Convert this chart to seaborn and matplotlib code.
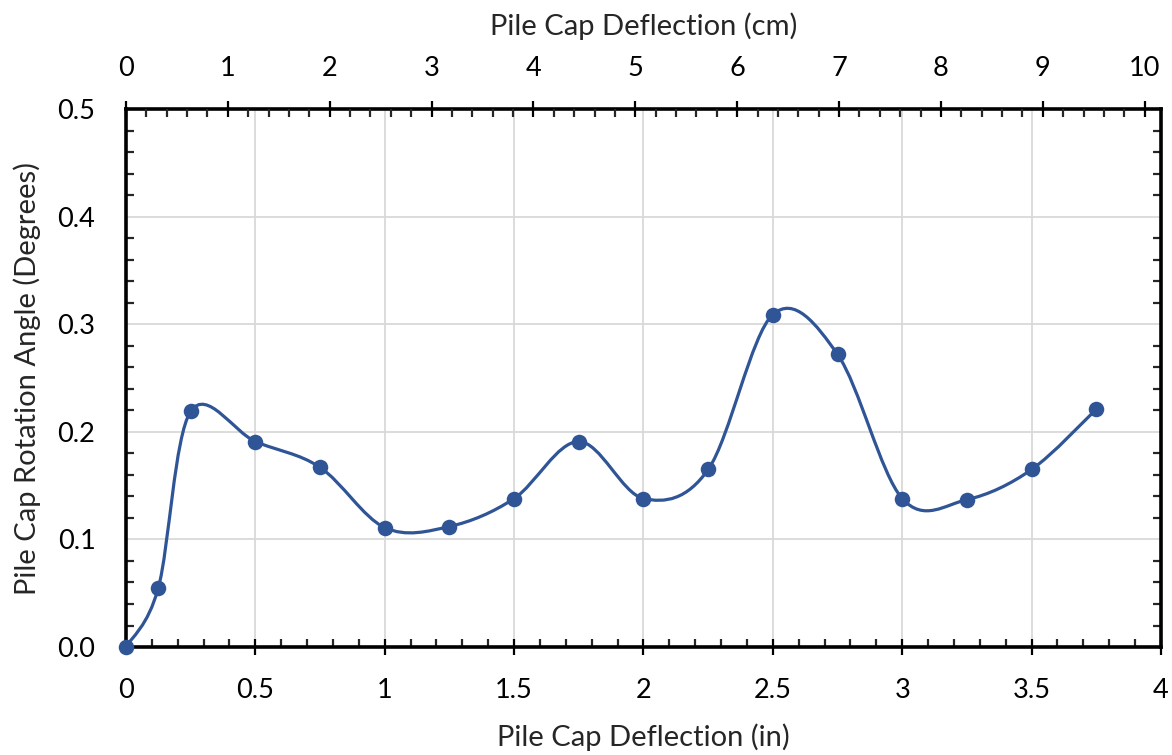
import numpy as np
import matplotlib
matplotlib.use("Agg")
import matplotlib.pyplot as plt
import seaborn as sns
from matplotlib.path import Path
from matplotlib.patches import PathPatch
from matplotlib.ticker import MultipleLocator

sns.set_theme(style="white")
plt.rcParams['font.family'] = ['Lato', 'DejaVu Sans']

# 数据：桩帽挠度 (in) 与转角 (度)
deflection_in = [0, 0.125, 0.25, 0.5, 0.75, 1.0, 1.25, 1.5, 1.75, 2.0,
                 2.25, 2.5, 2.75, 3.0, 3.25, 3.5, 3.75]
rotation_deg = [0.0, 0.055, 0.219, 0.191, 0.167, 0.111, 0.112, 0.138, 0.191, 0.138,
                0.165, 0.309, 0.272, 0.138, 0.137, 0.165, 0.221]

line_color = '#2f5597'
grid_color = '#d9d9d9'
tick_fs = 19.5
label_fs = 21

fig = plt.figure(figsize=(11.72, 7.55), dpi=100)
ax = fig.add_axes([0.1075, 0.143, 0.8831, 0.7126])

# Excel 风格的平滑曲线（贝塞尔控制点取自相邻点）
pts = np.column_stack([deflection_in, rotation_deg])
n = len(pts)
verts = [pts[0]]
codes = [Path.MOVETO]
for i in range(n - 1):
    p_prev = pts[i - 1] if i > 0 else pts[i]
    p_next2 = pts[i + 2] if i + 2 < n else pts[i + 1]
    c1 = pts[i] + (pts[i + 1] - p_prev) / 6
    c2 = pts[i + 1] - (p_next2 - pts[i]) / 6
    verts += [c1, c2, pts[i + 1]]
    codes += [Path.CURVE4] * 3
ax.add_patch(PathPatch(Path(verts, codes), facecolor='none', edgecolor=line_color,
                       lw=2.3, zorder=3))

sns.scatterplot(x=deflection_in, y=rotation_deg, ax=ax, color=line_color, s=125,
                edgecolor=line_color, linewidth=0, zorder=4, clip_on=False)

ax.set_xlim(0, 4)
ax.set_ylim(0, 0.5)
ax.xaxis.set_minor_locator(MultipleLocator(0.1))
ax.yaxis.set_minor_locator(MultipleLocator(0.02))
ax.set_xticks([0, 0.5, 1, 1.5, 2, 2.5, 3, 3.5, 4])
ax.set_xticklabels(['0', '0.5', '1', '1.5', '2', '2.5', '3', '3.5', '4'])
ax.set_yticks([0, 0.1, 0.2, 0.3, 0.4, 0.5])
ax.set_yticklabels(['0.0', '0.1', '0.2', '0.3', '0.4', '0.5'])
ax.grid(True, which='major', color=grid_color, lw=1.3)
ax.set_axisbelow(True)

ax.tick_params(which='major', direction='inout', length=12, width=1.6, labelsize=tick_fs,
               colors='black')
ax.tick_params(axis='x', which='major', pad=16)
ax.tick_params(axis='y', which='major', pad=16)
ax.tick_params(which='minor', direction='in', length=6, width=1.6, left=True,
               bottom=True, right=True)
ax.tick_params(axis='y', which='major', right=False, labelright=False)
for sp in ax.spines.values():
    sp.set_color('black')
    sp.set_linewidth(2.6)

ax.set_xlabel('Pile Cap Deflection (in)', fontsize=label_fs, labelpad=15)
ax.set_ylabel('Pile Cap Rotation Angle (Degrees)', fontsize=label_fs, labelpad=12)

# 顶部 cm 轴
top = ax.twiny()
top.set_xlim(0, 4 * 2.54)
top.xaxis.set_major_locator(MultipleLocator(1))
top.xaxis.set_minor_locator(MultipleLocator(0.2))
top.tick_params(which='major', direction='inout', length=12, width=1.6, labelsize=tick_fs,
                colors='black', pad=14)
top.tick_params(which='minor', direction='in', length=6, width=1.6, top=True)
top.grid(False)
for sp in top.spines.values():
    sp.set_visible(False)
top.set_xlabel('Pile Cap Deflection (cm)', fontsize=label_fs, labelpad=15)

fig.savefig('out.png', dpi=100)
plt.close(fig)
